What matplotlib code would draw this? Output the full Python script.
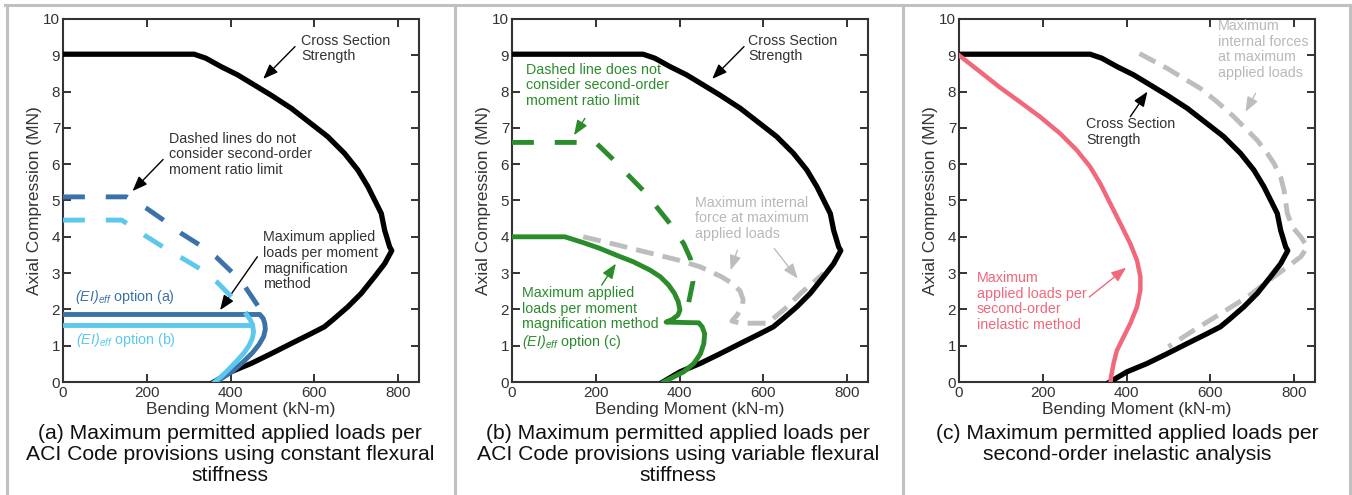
from matplotlib import pyplot as plt
from matplotlib.lines import Line2D

plt.rcParams['font.family'] = ['Liberation Sans', 'DejaVu Sans']
plt.rcParams['mathtext.fontset'] = 'custom'
# the only mathtext here is the italic (EI)eff label, so rm can be italic too
plt.rcParams['mathtext.rm'] = 'Liberation Sans:italic'
plt.rcParams['mathtext.it'] = 'Liberation Sans:italic'

# Cross section strength (same in every panel)
cs_m = [0, 313, 341, 377, 417, 450, 497, 545, 592, 632, 672, 704, 728, 748, 760, 768, 780, 785,
        768, 744, 712, 680, 648, 624, 592, 545, 497, 449, 401, 360]
cs_p = [9.03, 9.03, 8.92, 8.69, 8.46, 8.23, 7.90, 7.54, 7.12, 6.76, 6.30, 5.84, 5.38, 4.92, 4.64,
        4.18, 3.72, 3.62, 3.26, 2.9, 2.44, 2.07, 1.75, 1.52, 1.33, 1.06, 0.78, 0.51, 0.28, 0.0]

# (a) constant flexural stiffness
dash_a_m = [0, 152, 200, 240, 283, 327, 365, 403, 435, 467, 472]
dash_a_p = [5.1, 5.1, 4.78, 4.46, 4.09, 3.77, 3.45, 3.03, 2.62, 2.07, 1.9]
dash_b_m = [0, 140, 155, 195, 239, 279, 327, 367, 403, 438]
dash_b_p = [4.46, 4.46, 4.35, 4.04, 3.72, 3.45, 3.12, 2.76, 2.34, 1.88]
opt_a_m = [0, 470, 478, 482, 483, 479, 468, 452, 430, 405, 383, 365]
opt_a_p = [1.86, 1.86, 1.75, 1.6, 1.45, 1.25, 1.03, 0.8, 0.55, 0.3, 0.13, 0.0]
opt_b_flat_m = [0, 452]
opt_b_flat_p = [1.56, 1.56]
opt_b_m = [438, 447, 453, 455, 452, 444, 432, 415, 395, 377, 362]
opt_b_p = [1.86, 1.72, 1.55, 1.38, 1.2, 1.0, 0.8, 0.58, 0.34, 0.14, 0.0]

# (b) variable flexural stiffness
dash_c_m = [0, 150, 202, 239, 274, 313, 342, 374, 410, 426, 432, 422]
dash_c_p = [6.6, 6.6, 6.57, 6.16, 5.74, 5.28, 4.87, 4.41, 3.81, 3.4, 2.76, 2.2]
opt_c_m = [0, 126, 170, 210, 250, 290, 330, 354, 374, 388, 397, 401, 396, 382, 368,
           446, 454, 460, 458, 450, 434, 410, 386, 362]
opt_c_p = [4.0, 4.0, 3.84, 3.68, 3.49, 3.31, 3.08, 2.9, 2.67, 2.44, 2.21, 1.98, 1.84, 1.72, 1.65,
           1.63, 1.52, 1.33, 1.06, 0.78, 0.51, 0.28, 0.14, 0.0]
int_c_m = [170, 250, 330, 400, 450, 500, 528, 545, 552, 548, 538, 525, 545, 610, 650, 690, 720, 745]
int_c_p = [4.0, 3.78, 3.55, 3.35, 3.17, 2.9, 2.7, 2.5, 2.26, 2.05, 1.85, 1.68, 1.62, 1.62, 2.0, 2.45, 2.75, 3.0]

# (c) second-order inelastic analysis
inel_m = [0, 50, 97, 145, 193, 241, 281, 313, 337, 361, 385, 409, 425, 433, 433, 425, 409, 389,
          377, 369, 363, 362]
inel_p = [9.0, 8.55, 8.12, 7.72, 7.31, 6.85, 6.39, 5.93, 5.47, 4.92, 4.37, 3.81, 3.35, 2.9, 2.53,
          2.07, 1.61, 1.15, 0.87, 0.51, 0.14, 0.0]
int_in_m = [431, 497, 537, 576, 616, 656, 688, 712, 736, 752, 768, 776, 784, 796, 816, 832,
            816, 784, 752, 720, 688, 656, 624, 592, 560, 529, 500]
int_in_p = [9.05, 8.64, 8.36, 8.09, 7.72, 7.31, 6.94, 6.66, 6.30, 6.02, 5.65, 5.28, 4.64, 4.27,
            4.0, 3.72, 3.45, 3.17, 2.9, 2.62, 2.34, 2.11, 1.88, 1.65, 1.42, 1.19, 0.97]

captions = ['(a) Maximum permitted applied loads per\nACI Code provisions using constant flexural\nstiffness',
            '(b) Maximum permitted applied loads per\nACI Code provisions using variable flexural\nstiffness',
            '(c) Maximum permitted applied loads per\nsecond-order inelastic analysis']

BLACK = '#000000'
TXT = '#333333'
DBLUE = '#3c72aa'
LBLUE = '#5cc8ee'
GREEN = '#2b8c2b'
GRAY = '#bdbdbd'
PINK = '#f0687a'

DASH = (0, (4.5, 4.3))
GDASH = (0, (3.7, 1.9))


def arrow(ax, text_xy, tip_xy, color):
    ax.annotate('', xy=tip_xy, xytext=text_xy,
                arrowprops=dict(arrowstyle='-|>,head_length=0.9,head_width=0.35',
                                color=color, lw=1.0, shrinkA=0, shrinkB=0))


def note(ax, x, y, s, color, **kw):
    ax.text(x, y, s, color=color, fontsize=10.3, va='top', ha='left',
            linespacing=1.15, **kw)


def setup(ax):
    ax.set_xlim(0, 850)
    ax.set_ylim(0, 10)
    ax.set_xticks([0, 200, 400, 600, 800])
    ax.set_yticks(range(11))
    ax.tick_params(direction='in', top=True, right=True, length=6, width=1.4,
                   colors='#333333', labelsize=11, pad=3)
    ax.tick_params(axis='y', pad=2)
    for s in ax.spines.values():
        s.set_color('#333333')
        s.set_linewidth(1.5)
    ax.set_xlabel('Bending Moment (kN-m)', fontsize=12.5, color=TXT, labelpad=1)
    ax.set_ylabel('Axial Compression (MN)', fontsize=12.5, color=TXT, labelpad=1)


fig = plt.figure(figsize=(13.52, 4.95), dpi=100)

# panel frames
for xp in [7, 455, 903, 1350]:
    fig.add_artist(Line2D([xp / 1352, xp / 1352], [0, 490 / 495],
                          color='#c0c0c0', lw=2.2, transform=fig.transFigure))
fig.add_artist(Line2D([5 / 1352, 1352 / 1352], [490 / 495, 490 / 495],
                      color='#c0c0c0', lw=2.2, transform=fig.transFigure))

lefts = [63, 512, 959]
axes = [fig.add_axes([l / 1352, 113 / 495, 356 / 1352, 363 / 495]) for l in lefts]
for ax in axes:
    setup(ax)

# ---------------- (a)
ax = axes[0]
ax.plot(cs_m, cs_p, color=BLACK, lw=3.8, solid_joinstyle='round', zorder=3)
ax.plot(dash_a_m, dash_a_p, color=DBLUE, lw=3.5, ls=DASH, zorder=4)
ax.plot(dash_b_m, dash_b_p, color=LBLUE, lw=3.5, ls=DASH, zorder=4)
ax.plot(opt_a_m, opt_a_p, color=DBLUE, lw=3.5, solid_joinstyle='round', zorder=4)
ax.plot(opt_b_flat_m, opt_b_flat_p, color=LBLUE, lw=3.5, zorder=5)
ax.plot(opt_b_m, opt_b_p, color=LBLUE, lw=3.5, solid_joinstyle='round', zorder=5)
note(ax, 569, 9.6, 'Cross Section\nStrength', TXT)
arrow(ax, (554, 9.24), (478, 8.35), BLACK)
note(ax, 254, 6.9, 'Dashed lines do not\nconsider second-order\nmoment ratio limit', TXT)
arrow(ax, (239, 6.13), (166, 5.26), BLACK)
note(ax, 478, 4.18, 'Maximum applied\nloads per moment\nmagnification\nmethod', TXT)
arrow(ax, (464, 3.45), (375, 1.98), BLACK)
ax.text(28, 2.34, r'$(EI)_{eff}$ option (a)', color=DBLUE, fontsize=10.3, va='center')
ax.text(30, 1.15, r'$(EI)_{eff}$ option (b)', color=LBLUE, fontsize=10.3, va='center')

# ---------------- (b)
ax = axes[1]
ax.plot(int_c_m, int_c_p, color=GRAY, lw=3.5, ls=GDASH, zorder=2)
ax.plot(cs_m, cs_p, color=BLACK, lw=3.8, solid_joinstyle='round', zorder=3)
ax.plot(dash_c_m, dash_c_p, color=GREEN, lw=3.5, ls=DASH, zorder=4)
ax.plot(opt_c_m, opt_c_p, color=GREEN, lw=3.5, solid_joinstyle='round', zorder=4)
note(ax, 564, 9.6, 'Cross Section\nStrength', TXT)
arrow(ax, (554, 9.24), (478, 8.35), BLACK)
note(ax, 33, 8.8, 'Dashed line does not\nconsider second-order\nmoment ratio limit', GREEN)
arrow(ax, (174, 7.26), (148, 6.8), GREEN)
note(ax, 438, 5.13, 'Maximum internal\nforce at maximum\napplied loads', '#b8b8b8')
arrow(ax, (538, 3.63), (522, 3.08), GRAY)
arrow(ax, (626, 3.68), (682, 2.85), GRAY)
note(ax, 25, 2.64, 'Maximum applied\nloads per moment\nmagnification method\n'
     r'$(EI)_{eff}$ option (c)', GREEN)
arrow(ax, (214, 2.67), (248, 3.26), GREEN)

# ---------------- (c)
ax = axes[2]
ax.plot(int_in_m, int_in_p, color=GRAY, lw=3.5, ls=GDASH, zorder=2)
ax.plot(cs_m, cs_p, color=BLACK, lw=3.8, solid_joinstyle='round', zorder=3)
ax.plot(inel_m, inel_p, color=PINK, lw=3.2, solid_joinstyle='round', zorder=4)
note(ax, 618, 10.0, 'Maximum\ninternal forces\nat maximum\napplied loads', '#b8b8b8')
arrow(ax, (708, 7.95), (684, 7.44), GRAY)
note(ax, 303, 7.3, 'Cross Section\nStrength', TXT)
arrow(ax, (409, 7.31), (450, 8.0), BLACK)
note(ax, 42, 3.06, 'Maximum\napplied loads per\nsecond-order\ninelastic method', PINK)
arrow(ax, (311, 2.34), (399, 3.15), PINK)

centers = [230, 678, 1127]
for cx, cap in zip(centers, captions):
    fig.text(cx / 1352, 1 - 424 / 495, cap, ha='center', va='top', fontsize=15.2,
             linespacing=1.13, color='#111111')

fig.savefig('out.png', dpi=100)
